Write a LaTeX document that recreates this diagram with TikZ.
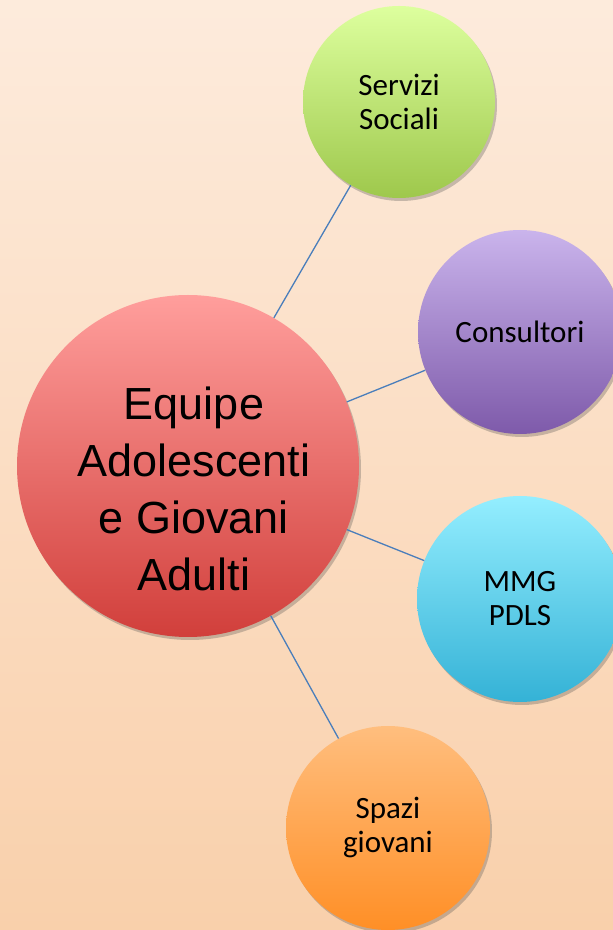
\documentclass[tikz,border=0pt]{standalone}
\usepackage{fontspec}
\setmainfont{Carlito}
\newfontfamily\hubfont{Liberation Sans}
\usetikzlibrary{shadows}
\definecolor{bgTop}{RGB}{253,235,220}
\definecolor{bgBot}{RGB}{249,208,171}
\definecolor{linkBlue}{RGB}{74,126,187}
\tikzset{
  bubble/.style={circle, inner sep=0pt, minimum size=#1, align=center,
    font=\fontsize{31}{34}\selectfont,
    drop shadow={shadow xshift=2pt, shadow yshift=-3pt, opacity=0.3, fill=black!70}},
  link/.style={draw=linkBlue, line width=1.3pt}
}

\begin{document}
\begin{tikzpicture}[x=1pt,y=1pt]
			% background
			\shade[top color=bgTop, bottom color=bgBot] (0,0) rectangle (613,930);
			\clip (0,0) rectangle (613,930);
			% central bubble
			\node[bubble=342pt, top color={rgb,255:red,255;green,158;blue,156},
			      bottom color={rgb,255:red,209;green,63;blue,59}] (hub) at (188,464) {};
			\node[font=\hubfont\fontsize{45}{57}\selectfont, align=center] (hubText)
			      at ([xshift=6pt,yshift=-23pt]hub.center) {Equipe\\Adolescenti\\e Giovani\\Adulti};
			% outer bubbles
			\node[bubble=192pt, top color={rgb,255:red,221;green,255;blue,158},
			      bottom color={rgb,255:red,158;green,200;blue,76}] (servizi) at (399,828) {Servizi\\Sociali};
			\node[bubble=204pt, top color={rgb,255:red,202;green,180;blue,236},
			      bottom color={rgb,255:red,126;green,90;blue,170}] (consultori) at (520,598) {Consultori};
			\node[bubble=206pt, top color={rgb,255:red,148;green,238;blue,255},
			      bottom color={rgb,255:red,52;green,178;blue,214}] (mmg) at (520,331) {MMG\\PDLS};
			\node[bubble=204pt, top color={rgb,255:red,255;green,190;blue,126},
			      bottom color={rgb,255:red,255;green,143;blue,38}] (spazi) at (388,102) {Spazi\\giovani};
			% connectors
			\draw[link] (hub) -- (servizi);
			\draw[link] (hub) -- (consultori);
			\draw[link] (hub) -- (mmg);
			\draw[link] (hub) -- (spazi);
\end{tikzpicture}
\end{document}
